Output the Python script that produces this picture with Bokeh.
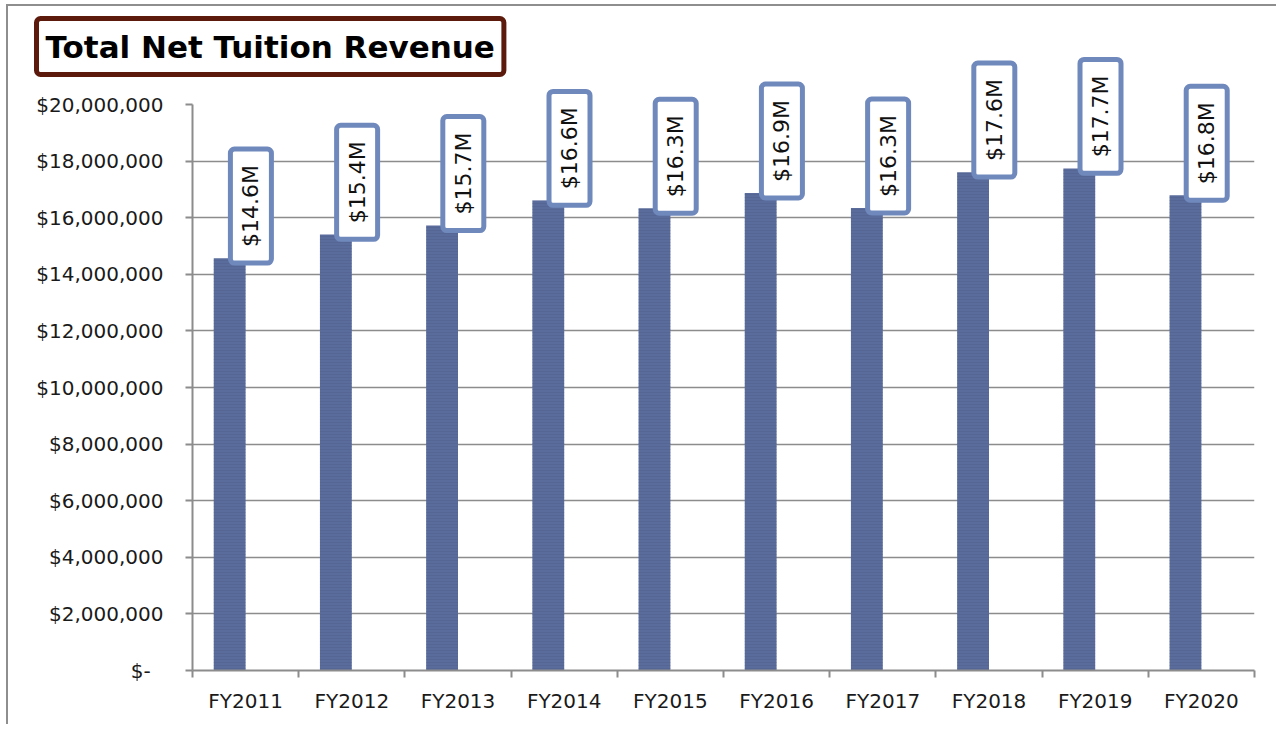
import numpy as np
from bokeh.plotting import figure
from bokeh.models import (Range1d, FixedTicker, CustomJSTickFormatter, Title,
                          ColumnDataSource)
from bokeh.embed import file_html
from bokeh.resources import INLINE
from bokeh.core.properties import value

# ---- data ----
categories = ["FY2011", "FY2012", "FY2013", "FY2014", "FY2015",
              "FY2016", "FY2017", "FY2018", "FY2019", "FY2020"]
revenue = [14.57e6, 15.41e6, 15.72e6, 16.61e6, 16.33e6,
           16.87e6, 16.34e6, 17.61e6, 17.74e6, 16.79e6]
y_ticks = [0, 2e6, 4e6, 6e6, 8e6, 10e6, 12e6, 14e6, 16e6, 18e6, 20e6]
title_text = "Total Net Tuition Revenue"

# ---- derived ----
n = len(categories)
centers = [i + 0.5 for i in range(n)]
boundaries = list(range(n + 1))
labels = [f"${v / 1e6:.1f}M" for v in revenue]

BAR_W = 0.3
BAR_DODGE = -BAR_W / 2   # clustered-column slot (second slot empty)
LABEL_DX = 0.05          # label box centre relative to category centre
LABEL_LIFT = 1.84e6      # label box centre above bar top

src = ColumnDataSource(dict(
    x=[c + BAR_DODGE for c in centers],
    top=revenue,
    lx=[c + LABEL_DX for c in centers],
    ly=[v + LABEL_LIFT for v in revenue],
    label=labels,
))

GRAY = "#8c8c8c"
FONT = "DejaVu Sans"

p = figure(width=1270, height=720, output_backend="svg", toolbar_location=None,
           x_range=Range1d(0, n), y_range=Range1d(0, y_ticks[-1]),
           min_border_left=184, min_border_right=24,
           min_border_top=98, min_border_bottom=56)
p.title.text = ""
p.outline_line_color = None
p.background_fill_color = "white"
p.border_fill_color = "white"
p.styles = {"border-left": "2px solid #8e8e8e", "border-top": "2px solid #8e8e8e",
            "margin-left": "6px", "margin-top": "4px"}

# grid
p.xgrid.visible = False
p.ygrid.ticker = FixedTicker(ticks=y_ticks[1:])
p.ygrid.grid_line_color = GRAY
p.ygrid.grid_line_width = 1.5

# bars
p.vbar(x="x", top="top", width=BAR_W, source=src,
       fill_color="#5a6c9b", line_color=None,
       hatch_pattern="-", hatch_color="#4a5c8a", hatch_alpha=0.35,
       hatch_scale=3, hatch_weight=1)

# value labels (overlay level so they may extend above the plot area)
p.text(x="lx", y="ly", text="label", source=src, angle=np.pi / 2,
       text_align="center", text_baseline="middle",
       text_font=value(FONT), text_font_size="22px", text_color="#111111",
       background_fill_color="white", border_line_color="#7089bd",
       border_line_width=5,
       padding=dict(left=16, right=16, top=8, bottom=8),
       border_radius=4, level="overlay")

# y axis
ya = p.yaxis[0]
ya.ticker = FixedTicker(ticks=y_ticks)
ya.formatter = CustomJSTickFormatter(code="""
    if (tick == 0) { return "$-\u00a0\u00a0"; }
    return "$" + Math.round(tick).toLocaleString("en-US");
""")
ya.axis_line_color = GRAY
ya.axis_line_width = 2
ya.major_tick_line_color = GRAY
ya.major_tick_line_width = 2
ya.major_tick_out = 7
ya.major_tick_in = 0
ya.minor_tick_line_color = None
ya.major_label_standoff = 22
ya.major_label_text_font = FONT
ya.major_label_text_font_size = "20px"
ya.major_label_text_color = "#1a1a1a"

# x axis
xa = p.xaxis[0]
xa.ticker = FixedTicker(ticks=centers, minor_ticks=boundaries)
xa.formatter = CustomJSTickFormatter(args=dict(cats=categories),
                                     code="return cats[Math.floor(tick)];")
xa.axis_line_color = GRAY
xa.axis_line_width = 2
xa.major_tick_line_color = None
xa.major_tick_out = 0
xa.major_tick_in = 0
xa.minor_tick_line_color = GRAY
xa.minor_tick_line_width = 2
xa.minor_tick_out = 7
xa.minor_tick_in = 0
xa.major_label_standoff = 11
xa.major_label_text_font = FONT
xa.major_label_text_font_size = "20px"
xa.major_label_text_color = "#1a1a1a"

# spacing between plot area and the title box
p.add_layout(Title(text=" ", text_font_size="2px", standoff=26), "above")

# title box
p.add_layout(Title(text=title_text, align="left", offset=-156, standoff=0,
                   text_font=FONT, text_font_style="bold",
                   text_font_size="31px", text_color="black",
                   padding=dict(left=9, right=9, top=10, bottom=10),
                   border_line_color="#5b1a0c", border_line_width=5,
                   background_fill_color="white", border_radius=4), "above")

open("out.html", "w").write(file_html(p, INLINE))
